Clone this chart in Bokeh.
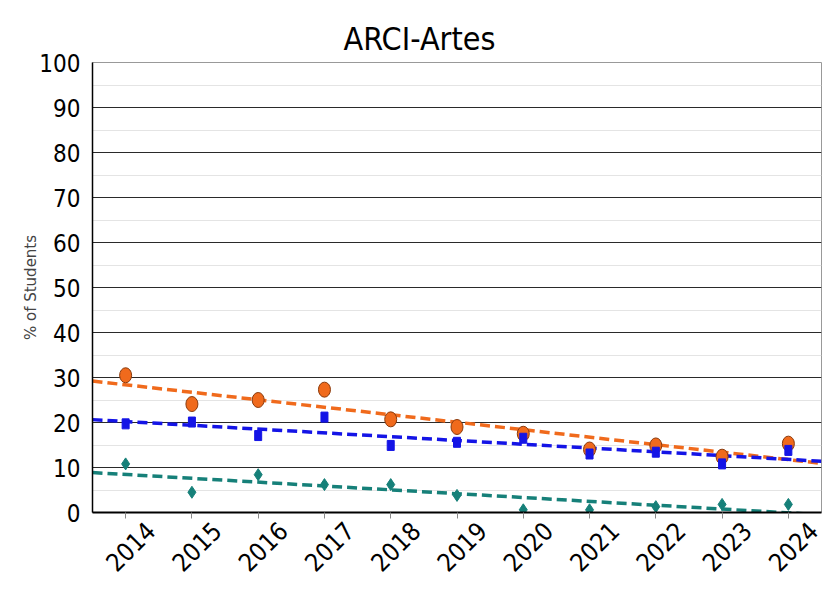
import numpy as np
from math import pi
from bokeh.plotting import figure
from bokeh.models import Range1d, FixedTicker, LinearAxis, PrintfTickFormatter
from bokeh.embed import file_html
from bokeh.resources import INLINE

years = [2014, 2015, 2016, 2017, 2018, 2019, 2020, 2021, 2022, 2023, 2024]
year_labels = [str(y) for y in years]
orange_vals = [30.5, 24.1, 25.0, 27.3, 20.7, 19.0, 17.5, 14.0, 14.9, 12.4, 15.3]
blue_vals = [19.7, 20.1, 17.1, 21.2, 14.9, 15.6, 16.5, 13.0, 13.4, 10.8, 13.8]
teal_vals = [10.8, 4.5, 8.4, 6.2, 6.2, 3.8, 0.6, 0.6, 1.3, 1.8, 1.8]
y_ticks = [0, 10, 20, 30, 40, 50, 60, 70, 80, 90, 100]

NARROW = "Liberation Sans Narrow, DejaVu Sans Condensed, Liberation Sans"
ORANGE = "#f06a1c"
BLUE = "#1414e6"
TEAL = "#168079"

x0, x1 = years[0] - 0.5, years[-1] + 0.5
LABEL_SHIFT = 0.38  # label placement offset (years), a style choice

p = figure(width=832, height=583, output_backend="svg", toolbar_location=None,
           x_range=Range1d(x0, x1), y_range=Range1d(0, 100),
           min_border_left=92, min_border_right=11, min_border_top=62, min_border_bottom=71)
p.background_fill_color = "white"
p.border_fill_color = "white"
p.outline_line_color = "#999999"

p.title.text = "ARCI-Artes"
p.title.text_font = NARROW
p.title.text_font_size = "32px"
p.title.text_font_style = "normal"
p.title.text_color = "black"
p.title.align = "left"
p.title.offset = 251

# grids
p.xgrid.visible = False
p.ygrid.ticker = FixedTicker(ticks=y_ticks, minor_ticks=[v + 5 for v in y_ticks[:-1]])
p.ygrid.grid_line_color = "#2a2a2a"
p.ygrid.grid_line_width = 1
p.ygrid.minor_grid_line_color = "#e4e4e4"

# main x axis: tick marks only
p.xaxis.ticker = FixedTicker(ticks=years)
p.xaxis.major_label_text_alpha = 0
p.xaxis.major_label_text_font_size = "1px"
p.xaxis.major_label_standoff = 0
p.xaxis.major_tick_out = 6
p.xaxis.major_tick_in = 0
p.xaxis.minor_tick_out = 0
p.xaxis.axis_line_color = "black"
p.xaxis.axis_line_width = 2
p.xaxis.major_tick_line_color = "#888888"

# label axis: rotated year labels
lab_axis = LinearAxis(ticker=FixedTicker(ticks=[y + LABEL_SHIFT for y in years]),
                      formatter=PrintfTickFormatter(format="%d"))
lab_axis.axis_line_color = None
lab_axis.major_tick_line_color = None
lab_axis.minor_tick_line_color = None
lab_axis.major_label_orientation = pi / 4
lab_axis.major_label_text_font = NARROW
lab_axis.major_label_text_font_size = "25px"
lab_axis.major_label_text_color = "black"
lab_axis.major_label_standoff = 2
p.add_layout(lab_axis, "below")

p.yaxis.ticker = FixedTicker(ticks=y_ticks)
p.yaxis.major_label_text_font = NARROW
p.yaxis.major_label_text_font_size = "24px"
p.yaxis.major_label_text_color = "black"
p.yaxis.major_tick_out = 0
p.yaxis.major_tick_in = 0
p.yaxis.minor_tick_out = 0
p.yaxis.minor_tick_in = 0
p.yaxis.major_label_standoff = 12
p.yaxis.axis_line_color = "black"
p.yaxis.axis_line_width = 1.5
p.yaxis.axis_label = "% of Students"
p.yaxis.axis_label_text_font = "DejaVu Sans"
p.yaxis.axis_label_text_font_size = "15px"
p.yaxis.axis_label_text_font_style = "normal"
p.yaxis.axis_label_text_color = "#444444"
p.yaxis.axis_label_standoff = -4

xs = np.array(years, dtype=float)
xl = np.array([x0, x1])

def trend(vals):
    m, b = np.polyfit(xs, np.array(vals), 1)
    return m * xl + b

series = [(orange_vals, ORANGE), (blue_vals, BLUE), (teal_vals, TEAL)]

for vals, col in series:
    p.line(xl, trend(vals), line_color=col, line_width=3.5, line_dash="10 5")

p.ellipse(years, orange_vals, width=12, height=15, width_units="screen", height_units="screen",
          fill_color=ORANGE, line_color="#8a3a0c", line_width=1)
p.rect(years, blue_vals, width=7, height=10, width_units="screen", height_units="screen",
       fill_color=BLUE, line_color=BLUE)
p.scatter(years, teal_vals, marker="diamond", size=12, fill_color=TEAL, line_color=TEAL)

open("out.html", "w").write(file_html(p, INLINE))
